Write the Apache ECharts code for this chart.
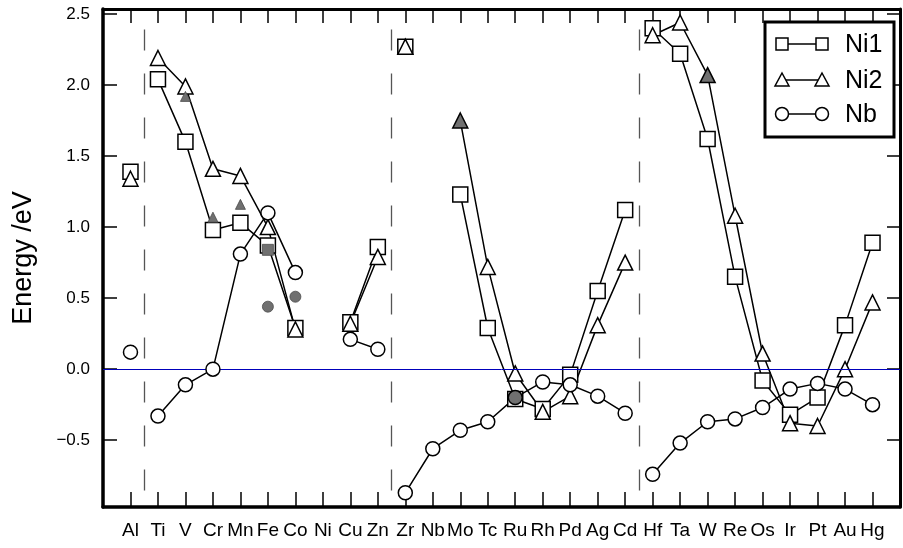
<!DOCTYPE html>
<html>
<head>
<meta charset="utf-8">
<style>
  html, body { margin: 0; padding: 0; background: #fff; }
  #chart { width: 903px; height: 548px; }
</style>
<script src="https://cdn.jsdelivr.net/npm/echarts@6/dist/echarts.min.js"></script>
</head>
<body>
<div id="chart"></div>
<script>
// ---- data ----
const categories = ['Al','Ti','V','Cr','Mn','Fe','Co','Ni','Cu','Zn','Zr','Nb','Mo','Tc','Ru','Rh','Pd','Ag','Cd','Hf','Ta','W','Re','Os','Ir','Pt','Au','Hg'];
const ni1 = [1.39, 2.04, 1.60, 0.98, 1.03, 0.87, 0.29, null, 0.33, 0.86, 2.27, null, 1.23, 0.29, -0.21, -0.28, -0.04, 0.55, 1.12, 2.40, 2.22, 1.62, 0.65, -0.08, -0.32, -0.20, 0.31, 0.89];
const ni2 = [1.34, 2.19, 1.99, 1.41, 1.36, 1.00, 0.28, null, 0.32, 0.79, 2.27, null, 1.75, 0.72, -0.03, -0.30, -0.19, 0.31, 0.75, 2.35, 2.44, 2.07, 1.08, 0.11, -0.38, -0.40, 0.00, 0.47];
const nb  = [0.12, -0.33, -0.11, 0.00, 0.81, 1.10, 0.68, null, 0.21, 0.14, -0.87, -0.56, -0.43, -0.37, -0.20, -0.09, -0.11, -0.19, -0.31, -0.74, -0.52, -0.37, -0.35, -0.27, -0.14, -0.10, -0.14, -0.25];
// points of the main series drawn shaded
const shadedNi2 = ['Mo', 'W'];
const shadedNb = ['Ru'];
// extra shaded points
const grayTri = [['V', 1.92], ['Cr', 1.07], ['Mn', 1.16]];
const graySq = [['Fe', 0.84]];
const grayCirc = [['Fe', 0.44], ['Co', 0.51]];
// periods (lines are not joined across them)
const periods = [['Al','Al'], ['Ti','Zn'], ['Zr','Cd'], ['Hf','Hg']];
const yTicks = [-0.5, 0.0, 0.5, 1.0, 1.5, 2.0, 2.5];
const seriesNames = ['Ni1', 'Ni2', 'Nb'];

// ---- build options ----
const FONT = '"Liberation Sans", Arial, Helvetica, sans-serif';
const GRAY = '#707070';
const pos = c => categories.indexOf(c) + 1;
const sets = [
  { name: 'Ni1', values: ni1, symbol: 'rect', size: 15, shaded: [] },
  { name: 'Ni2', values: ni2, symbol: 'triangle', size: 15, shaded: shadedNi2 },
  { name: 'Nb',  values: nb,  symbol: 'circle', size: 14, shaded: shadedNb }
];

const series = [];
const sepLines = periods.slice(1).map(p => {
  const x = pos(p[0]) - 0.5;
  return [{ coord: [x, 2.39] }, { coord: [x, -0.866] }];
});
series.push({
  type: 'line', data: [], z: 1, silent: true,
  markLine: {
    silent: true, symbol: ['none', 'none'], animation: false,
    label: { show: false },
    data: [
      { yAxis: 0, lineStyle: { color: '#0000bb', width: 1, type: 'solid' } },
      ...sepLines.map(d => [
        Object.assign({}, d[0], { lineStyle: { color: '#555', width: 1.3, type: [21, 23] } }),
        d[1]
      ])
    ]
  }
});

sets.forEach(s => {
  periods.forEach(p => {
    const a = pos(p[0]), b = pos(p[1]);
    const data = [];
    for (let i = a; i <= b; i++) {
      const v = s.values[i - 1];
      data.push([i, v == null ? '-' : v]);
    }
    series.push({
      type: 'line', name: s.name, data, showSymbol: false, symbol: 'none',
      connectNulls: false, z: 2, silent: true, animation: false,
      lineStyle: { color: '#000', width: 1.5 }
    });
  });
});

sets.forEach((s, k) => {
  const data = [];
  s.values.forEach((v, i) => {
    if (v == null) return;
    const item = { value: [i + 1, v] };
    if (s.shaded.includes(categories[i])) {
      item.itemStyle = { color: GRAY, borderColor: '#000', borderWidth: 1.5 };
    }
    data.push(item);
  });
  series.push({
    type: 'scatter', name: s.name, data, symbol: s.symbol, symbolSize: s.size,
    z: 3 + k, silent: true, animation: false,
    itemStyle: { color: '#fff', borderColor: '#000', borderWidth: 1.5, opacity: 1 }
  });
});

[[grayTri, 'triangle', 10], [graySq, 'rect', 11], [grayCirc, 'circle', 11]].forEach(([arr, sym, sz]) => {
  series.push({
    type: 'scatter', data: arr.map(d => [pos(d[0]), d[1]]), symbol: sym, symbolSize: sz,
    z: 8, silent: true, animation: false,
    itemStyle: { color: GRAY, borderColor: '#4a4a4a', borderWidth: 0.8, opacity: 1 }
  });
});

// legend drawn as graphic
const legendBox = { x: 765, y: 22, w: 129, h: 115 };
const legendRows = [44, 80, 114];
const legendEls = [{
  type: 'rect', shape: { x: legendBox.x, y: legendBox.y, width: legendBox.w, height: legendBox.h },
  style: { fill: '#fff', stroke: '#000', lineWidth: 3 }, z: 100
}];
const mk = (sym, cx, cy) => {
  const r = 6;
  const st = { fill: '#fff', stroke: '#000', lineWidth: 1.5 };
  if (sym === 'rect') return { type: 'rect', shape: { x: cx - r, y: cy - r, width: 2 * r, height: 2 * r }, style: st, z: 102 };
  if (sym === 'triangle') return { type: 'polygon', shape: { points: [[cx, cy - r - 1], [cx + r + 1, cy + r], [cx - r - 1, cy + r]] }, style: st, z: 102 };
  return { type: 'circle', shape: { cx, cy, r: r + 0.5 }, style: st, z: 102 };
};
sets.forEach((s, k) => {
  const y = legendRows[k];
  legendEls.push({ type: 'line', shape: { x1: 782, y1: y, x2: 822, y2: y }, style: { stroke: '#000', lineWidth: 1.5 }, z: 101 });
  legendEls.push(mk(s.symbol, 782, y));
  legendEls.push(mk(s.symbol, 822, y));
  legendEls.push({ type: 'text', x: 845, y: y + 1, style: { text: seriesNames[k], font: '25px ' + FONT, fill: '#000', verticalAlign: 'middle', align: 'left' }, z: 102 });
});

const xBase = {
  type: 'value', min: 0, max: categories.length + 1, interval: 1,
  splitLine: { show: false },
  axisTick: { show: true, inside: true, length: 15, lineStyle: { color: '#000', width: 1.5 } }
};
const yBase = {
  type: 'value', min: -0.97, max: 2.535,
  splitLine: { show: false },
  axisTick: { show: true, inside: true, length: 14, customValues: yTicks, lineStyle: { color: '#000', width: 1.5 } }
};

const option = {
  animation: false,
  backgroundColor: '#fff',
  grid: { left: 103, right: -3, top: 9, bottom: 41, containLabel: false },
  xAxis: [
    Object.assign({}, xBase, {
      position: 'bottom',
      axisLine: { show: true, onZero: false, lineStyle: { color: '#000', width: 3.5 } },
      axisLabel: {
        show: true, margin: 14, color: '#000', fontSize: 19, fontFamily: FONT,
        formatter: v => categories[v - 1] || ''
      }
    }),
    Object.assign({}, xBase, {
      position: 'top',
      axisTick: { show: true, inside: true, length: 14, lineStyle: { color: '#000', width: 1.5 } },
      axisLine: { show: true, onZero: false, lineStyle: { color: '#000', width: 3 } },
      axisLabel: { show: false }
    })
  ],
  yAxis: [
    Object.assign({}, yBase, {
      position: 'left',
      name: 'Energy /eV', nameLocation: 'middle', nameGap: 66, nameRotate: 90,
      nameTextStyle: { fontSize: 27, color: '#000', fontFamily: FONT },
      axisLine: { show: true, onZero: false, lineStyle: { color: '#000', width: 3.5 } },
      axisLabel: {
        show: true, margin: 13, color: '#000', fontSize: 17, fontFamily: FONT,
        customValues: yTicks,
        formatter: v => (v < 0 ? '\u2212' : '') + Math.abs(v).toFixed(1)
      }
    }),
    Object.assign({}, yBase, {
      position: 'right',
      axisTick: { show: true, inside: true, length: 13, customValues: yTicks, lineStyle: { color: '#000', width: 1.5 } },
      axisLine: { show: true, onZero: false, lineStyle: { color: '#000', width: 3 } },
      axisLabel: { show: false }
    })
  ],
  graphic: legendEls,
  series
};

const chart = echarts.init(document.getElementById('chart'), null, { renderer: 'canvas' });
chart.setOption(option);
</script>
</body>
</html>
